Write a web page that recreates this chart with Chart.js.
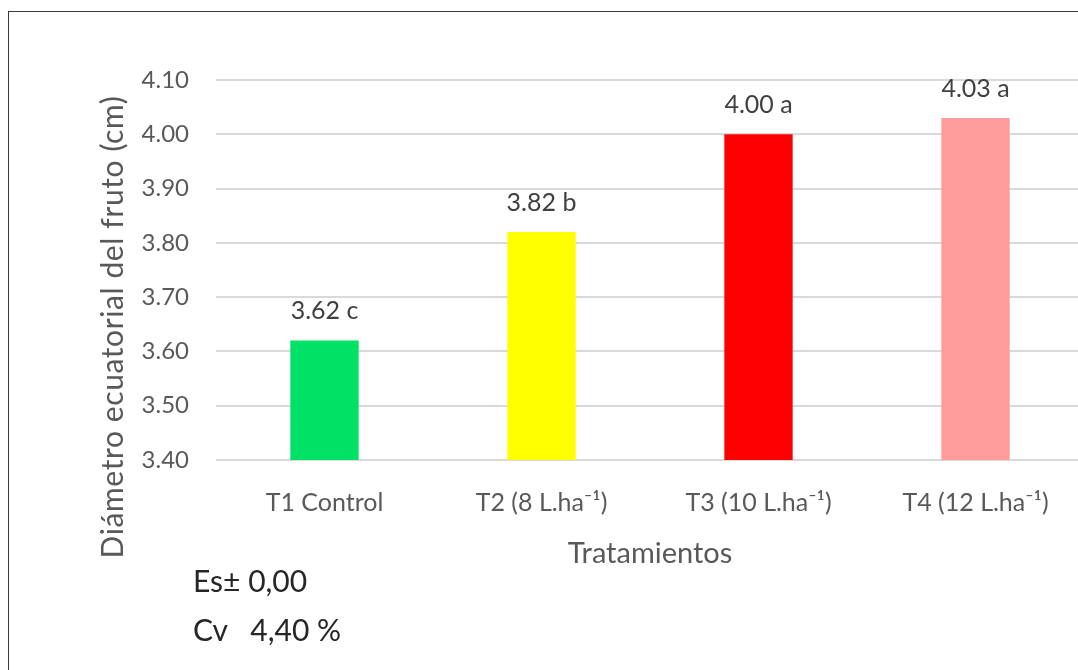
<!DOCTYPE html>
<html>
<head>
<meta charset="utf-8">
<script src="https://cdn.jsdelivr.net/npm/chart.js@4/dist/chart.umd.min.js"></script>
<style>
  html, body { margin: 0; padding: 0; background: #fff; overflow: hidden; }
  body { width: 1078px; height: 670px; position: relative; }
  #frame { position: absolute; left: 8px; top: 11px; width: 1100px; height: 700px; border: 1px solid #3a3a3a; box-sizing: border-box; }
  #wrap { position: absolute; left: 0; top: 0; width: 1090px; height: 670px; }
  .note { position: absolute; left: 193px; font-family: Lato, sans-serif; font-size: 30px; color: #262626; white-space: pre; }
</style>
</head>
<body>
<div id="frame"></div>
<div id="wrap"><canvas id="chart" width="1090" height="670"></canvas></div>
<div class="note" style="top:562px">Es± 0,00</div>
<div class="note" style="top:611px">Cv   4,40 %</div>
<script>
const categories = ['T1 Control', 'T2 (8 L.ha⁻¹)', 'T3 (10 L.ha⁻¹)', 'T4 (12 L.ha⁻¹)'];
const diameters = [3.62, 3.82, 4.00, 4.03];
const letters = ['c', 'b', 'a', 'a'];
const barColors = ['#00e266', '#ffff00', '#ff0000', '#ff9b9b'];
const yMin = 3.40;
const yMax = 4.10;
const yStep = 0.10;
const yTitle = 'Diámetro ecuatorial del fruto (cm)';
const xTitle = 'Tratamientos';

const font = 'Lato, sans-serif';

// value + letter above each bar
const barLabels = {
    id: 'barLabels',
    afterDatasetsDraw(chart) {
        const ctx = chart.ctx;
        const meta = chart.getDatasetMeta(0);
        ctx.save();
        ctx.font = `25px ${font}`;
        ctx.fillStyle = '#404040';
        ctx.textAlign = 'center';
        ctx.textBaseline = 'bottom';
        meta.data.forEach((bar, i) => {
            ctx.fillText(`${diameters[i].toFixed(2)} ${letters[i]}`, bar.x, bar.y - 17);
        });
        ctx.restore();
    }
};

// y title sits lower than the chart-area centre in the original
const yAxisTitle = {
    id: 'yAxisTitle',
    afterDraw(chart) {
        const ctx = chart.ctx;
        ctx.save();
        ctx.translate(113, 327);
        ctx.rotate(-Math.PI / 2);
        ctx.font = `30px ${font}`;
        ctx.letterSpacing = '0.6px';
        ctx.fillStyle = '#595959';
        ctx.textAlign = 'center';
        ctx.textBaseline = 'middle';
        ctx.fillText(yTitle, 0, 0);
        ctx.restore();
    }
};

new Chart(document.getElementById('chart'), {
    type: 'bar',
    data: {
        labels: categories,
        datasets: [{
            data: diameters,
            backgroundColor: barColors,
            borderWidth: 0,
            barPercentage: 0.315,
            categoryPercentage: 1
        }]
    },
    options: {
        responsive: false,
        animation: false,
        layout: { padding: { top: 80, right: 6, bottom: 99, left: 0 } },
        plugins: {
            legend: { display: false },
            tooltip: { enabled: false }
        },
        scales: {
            x: {
                afterFit(scale) { scale.height = 111; },
                grid: { display: false, drawTicks: false },
                border: { display: false },
                ticks: { color: '#595959', font: { family: font, size: 25 }, padding: 28, maxRotation: 0 },
                title: { display: true, text: xTitle, color: '#595959', font: { family: font, size: 29 }, padding: { top: 0, bottom: 0 } }
            },
            y: {
                min: yMin,
                max: yMax,
                afterFit(scale) { scale.width = 216; },
                grid: { color: '#d9d9d9', lineWidth: 2, drawTicks: false },
                border: { display: false },
                ticks: {
                    stepSize: yStep,
                    padding: 27,
                    color: '#595959',
                    font: { family: font, size: 24 },
                    callback: v => v.toFixed(2)
                }
            }
        }
    },
    plugins: [barLabels, yAxisTitle]
});
</script>
</body>
</html>
